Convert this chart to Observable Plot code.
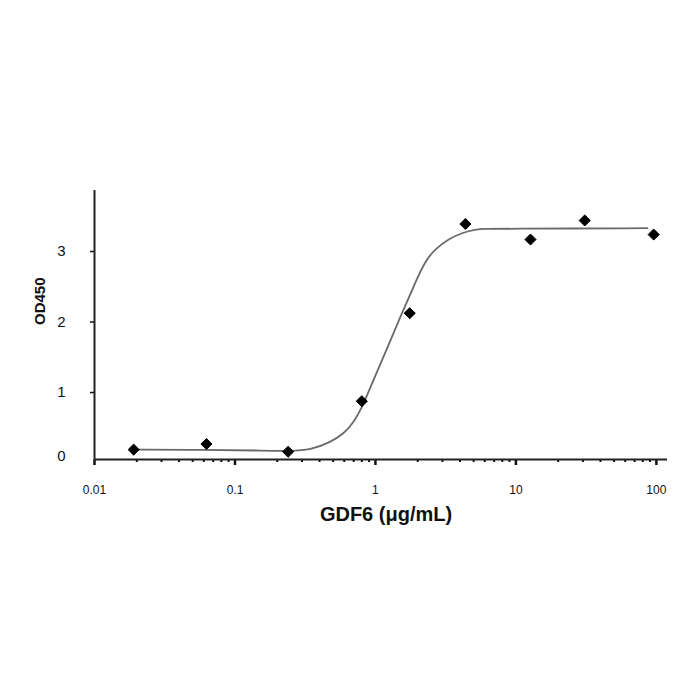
<!DOCTYPE html>
<html><head><meta charset="utf-8">
<script src="https://cdn.jsdelivr.net/npm/d3@7"></script>
<script src="https://cdn.jsdelivr.net/npm/@observablehq/plot@0.6"></script>
<style>body{margin:0;background:#fff}</style>
</head><body><div id="chart"></div>
<script>
// Measured points
const concentration = [0.019, 0.0627, 0.239, 0.80, 1.754, 4.37, 12.7, 30.9, 95.7];
const od450 = [0.19, 0.27, 0.16, 0.877, 2.125, 3.39, 3.17, 3.44, 3.24];
// Fitted curve
const fitX = [0.01896, 0.0627, 0.1519, 0.2483, 0.3446, 0.4783, 0.595, 0.7008, 0.804, 0.9214, 1.0854, 1.279, 1.465, 1.635, 1.926, 2.269, 2.673, 3.325, 4.141, 5.149, 6.067, 7.755, 86.3];
const fitY = [0.191, 0.187, 0.177, 0.170, 0.184, 0.295, 0.414, 0.579, 0.791, 1.075, 1.407, 1.738, 2.021, 2.234, 2.565, 2.872, 3.038, 3.180, 3.265, 3.312, 3.322, 3.322, 3.330];
// Axes
const xMajorTicks = [0.01, 0.1, 1, 10, 100];
const xTickLabels = ["0.01", "0.1", "1", "10", "100"];
const xMinorTicks = [0.02,0.03,0.04,0.05,0.06,0.07,0.08,0.09,
                     0.2,0.3,0.4,0.5,0.6,0.7,0.8,0.9,
                     2,3,4,5,6,7,8,9,
                     20,30,40,50,60,70,80,90];
const yTicks = [1, 2, 3];
const yTickLabels = ["1", "2", "3"];
const yZeroTick = [0];
const yZeroLabel = "0";
const xDomain = [0.01, 120];
const yDomain = [0.05, 3.865];
const xTitle = "GDF6 (μg/mL)";
const yTitle = "OD450";

const points = concentration.map((c, i) => ({c, od: od450[i]}));
const fit = fitX.map((x, i) => ({x, y: fitY[i]}));

const chart = Plot.plot({
  width: 700,
  height: 700,
  marginTop: 190,
  marginBottom: 241,
  marginLeft: 94,
  marginRight: 33,
  style: {fontFamily: "'Liberation Sans', Arial, sans-serif", color: "#111", background: "#fff"},
  x: {type: "log", domain: xDomain, label: null},
  y: {domain: yDomain, label: null},
  marks: [
    Plot.axisX(xMinorTicks, {tickSize: 3, strokeWidth: 2, text: null, label: null}),
    Plot.axisX(xMajorTicks, {tickSize: 6, strokeWidth: 2.5, tickPadding: 20, fontSize: 12,
      tickFormat: d => xTickLabels[xMajorTicks.indexOf(d)], label: null}),
    Plot.axisY(yTicks, {tickSize: 4, strokeWidth: 1.5, tickPadding: 25, fontSize: 15,
      tickFormat: d => yTickLabels[yTicks.indexOf(d)], label: null}),
    Plot.axisY(yZeroTick, {tickSize: 0, tickPadding: 29, dy: -7, fontSize: 15,
      tickFormat: () => yZeroLabel, label: null}),
    Plot.ruleY([yDomain[0]], {stroke: "#222", strokeWidth: 2}),
    Plot.ruleX([xDomain[0]], {stroke: "#222", strokeWidth: 2}),
    Plot.line(fit, {x: "x", y: "y", curve: "basis", stroke: "#6a6a6a", strokeWidth: 1.8}),
    Plot.dot(points, {x: "c", y: "od", symbol: "diamond2", r: 5, fill: "#000", stroke: "#000", strokeWidth: 1}),
    Plot.text([xTitle], {frameAnchor: "bottom", dy: 61, dx: 5, fontSize: 20, fontWeight: "bold", fill: "#111"}),
    Plot.text([yTitle], {frameAnchor: "left", rotate: -90, dx: -54, fontSize: 15, fontWeight: "bold", fill: "#111"})
  ]
});
document.getElementById("chart").appendChild(chart);
</script>
</body></html>
